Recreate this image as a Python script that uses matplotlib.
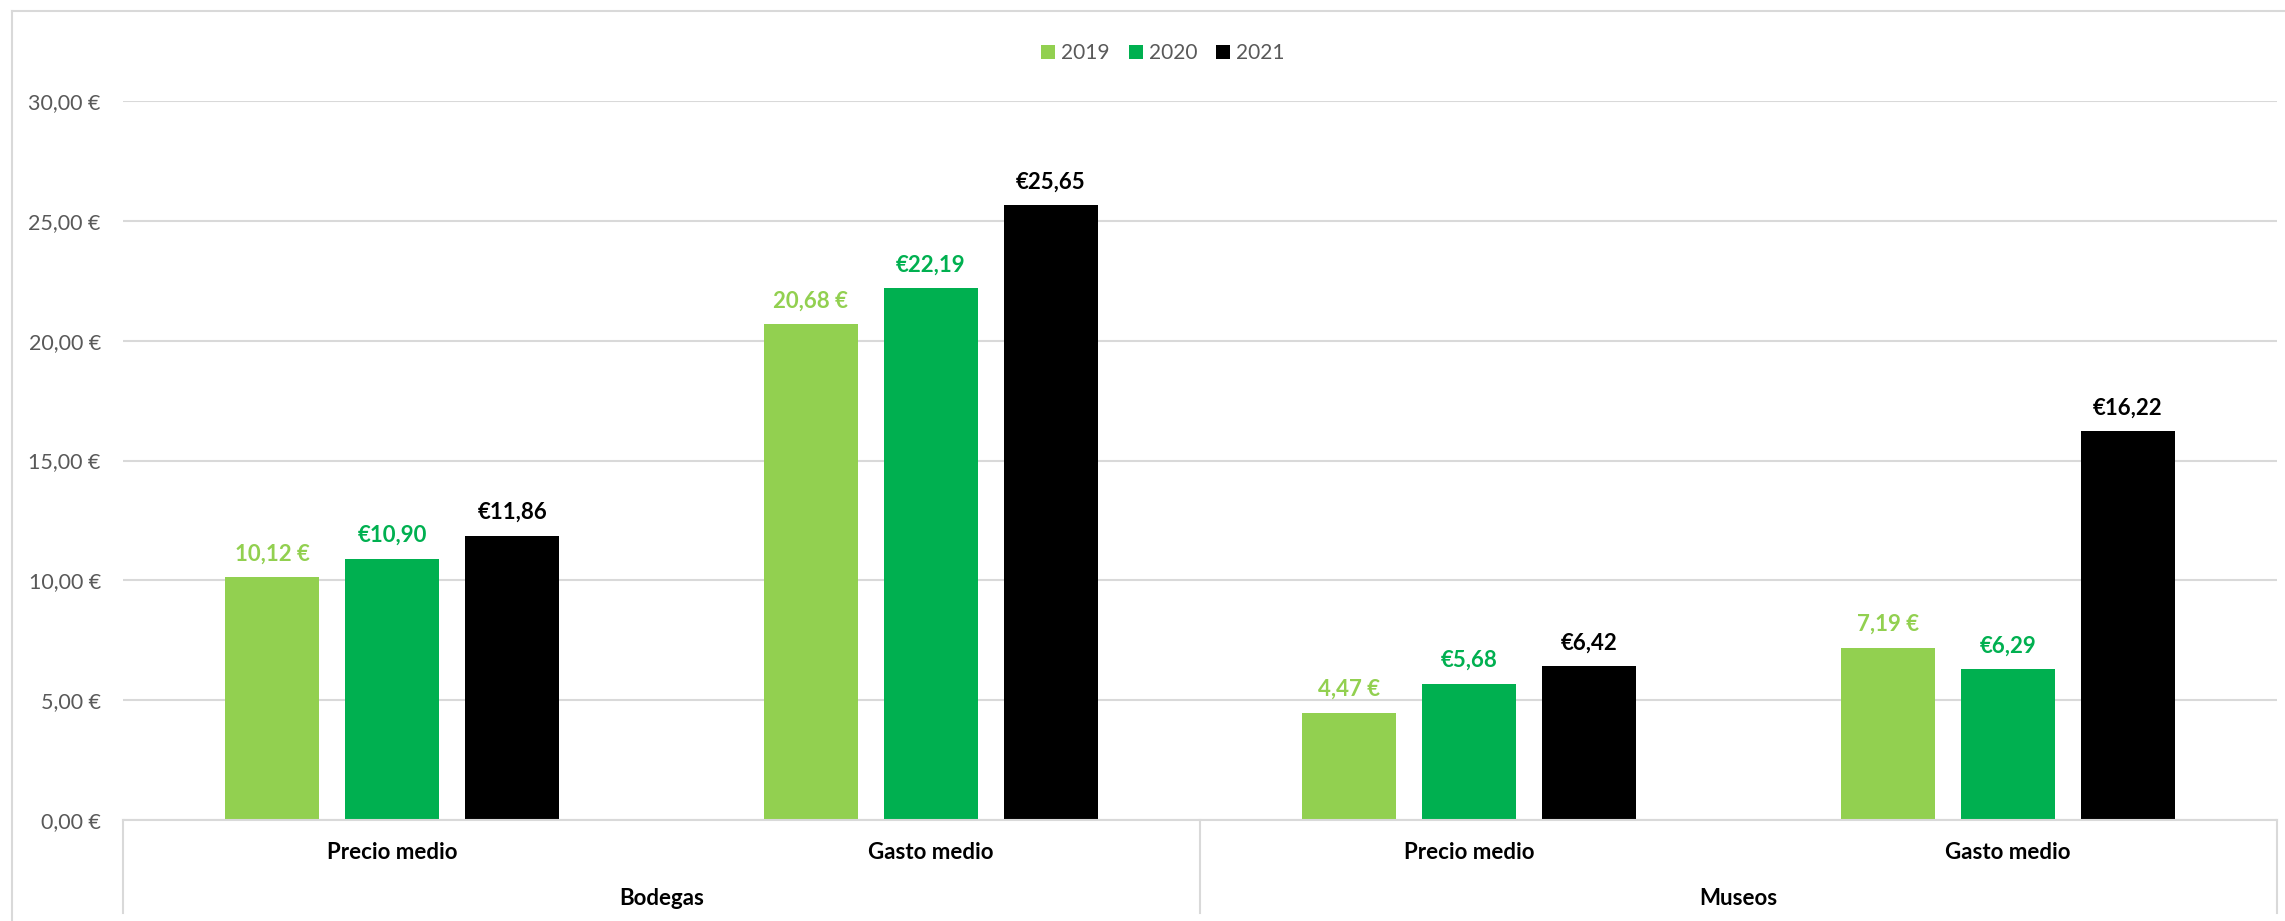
import matplotlib
matplotlib.use("Agg")
import matplotlib.pyplot as plt
from matplotlib.patches import Patch
from matplotlib.lines import Line2D

plt.rcParams['font.family'] = ['Lato', 'DejaVu Sans']

# ---- data ----
categories = ["Precio medio", "Gasto medio", "Precio medio", "Gasto medio"]
groups = ["Bodegas", "Museos"]
years = ["2019", "2020", "2021"]
v2019 = [10.12, 20.68, 4.47, 7.19]
v2020 = [10.90, 22.19, 5.68, 6.29]
v2021 = [11.86, 25.65, 6.42, 16.22]
colors = ["#92D050", "#00B050", "#000000"]
yticks = [0, 5, 10, 15, 20, 25, 30]


def fmt_suffix(v):
    return f"{v:.2f}".replace(".", ",") + " €"


def fmt_prefix(v):
    return "€" + f"{v:.2f}".replace(".", ",")


series = [v2019, v2020, v2021]
label_fmts = [fmt_suffix, fmt_prefix, fmt_prefix]

W, H = 2285, 921
fig = plt.figure(figsize=(W / 100, H / 100), dpi=100)
x0, x1 = 123, 2277
y0, y1 = 820, 101
ax = fig.add_axes([x0 / W, (H - y0) / H, (x1 - x0) / W, (y0 - y1) / H])

grid_c = "#D9D9D9"
step = 0.2228
width = 0.1745
xs = list(range(len(categories)))
for i, (vals, col, f) in enumerate(zip(series, colors, label_fmts)):
    pos = [x + (i - 1) * step for x in xs]
    ax.bar(pos, vals, width=width, color=col, zorder=3)
    for p, v in zip(pos, vals):
        ax.annotate(f(v), (p, v), xytext=(0, 12), textcoords="offset points",
                    ha="center", va="baseline", fontsize=16, fontweight="bold",
                    color=col)

ax.set_xlim(-0.5, len(categories) - 0.5)
ax.set_ylim(0, 30)
ax.set_yticks(yticks)
ax.set_yticklabels([fmt_suffix(t) for t in yticks])
ax.tick_params(axis="y", length=0, pad=16, labelsize=15.5, labelcolor="#595959")
ax.set_xticks([])
ax.yaxis.grid(True, color=grid_c, linewidth=1.5, zorder=0)
ax.set_axisbelow(True)
for s in ax.spines.values():
    s.set_visible(False)

# category axis box
yb = -(913 - y0) / (y0 - y1)
ax.plot([0, 1], [0, 0], transform=ax.transAxes, color=grid_c, lw=1.5, clip_on=False, zorder=4)
for xa in [0, 0.5, 1]:
    ax.plot([xa, xa], [0, yb], transform=ax.transAxes, color=grid_c, lw=1.5, clip_on=False)

trans = ax.get_xaxis_transform()
yc = -(852 - y0) / (y0 - y1)
yg = -(898 - y0) / (y0 - y1)
for x, c in zip(xs, categories):
    ax.text(x, yc, c, transform=trans, ha="center", va="center",
            fontsize=16, fontweight="bold", color="black")
for gi, g in enumerate(groups):
    ax.text(0.5 + 2 * gi, yg, g, transform=trans, ha="center", va="center",
            fontsize=16, fontweight="bold", color="black")

# chart border
fig.add_artist(Line2D([12 / W, 12 / W], [0, (H - 11) / H], color=grid_c, lw=1.5))
fig.add_artist(Line2D([12 / W, 1], [(H - 11) / H, (H - 11) / H], color=grid_c, lw=1.5))

handles = [Patch(facecolor=c, edgecolor="none") for c in colors]
fig.legend(handles, years, loc="center", bbox_to_anchor=(1163 / W, 1 - 53 / H),
           ncol=3, frameon=False, fontsize=15, labelcolor="#595959",
           handlelength=0.67, handleheight=0.67, handletextpad=0.3,
           columnspacing=0.9)

fig.savefig("out.png", dpi=100)
